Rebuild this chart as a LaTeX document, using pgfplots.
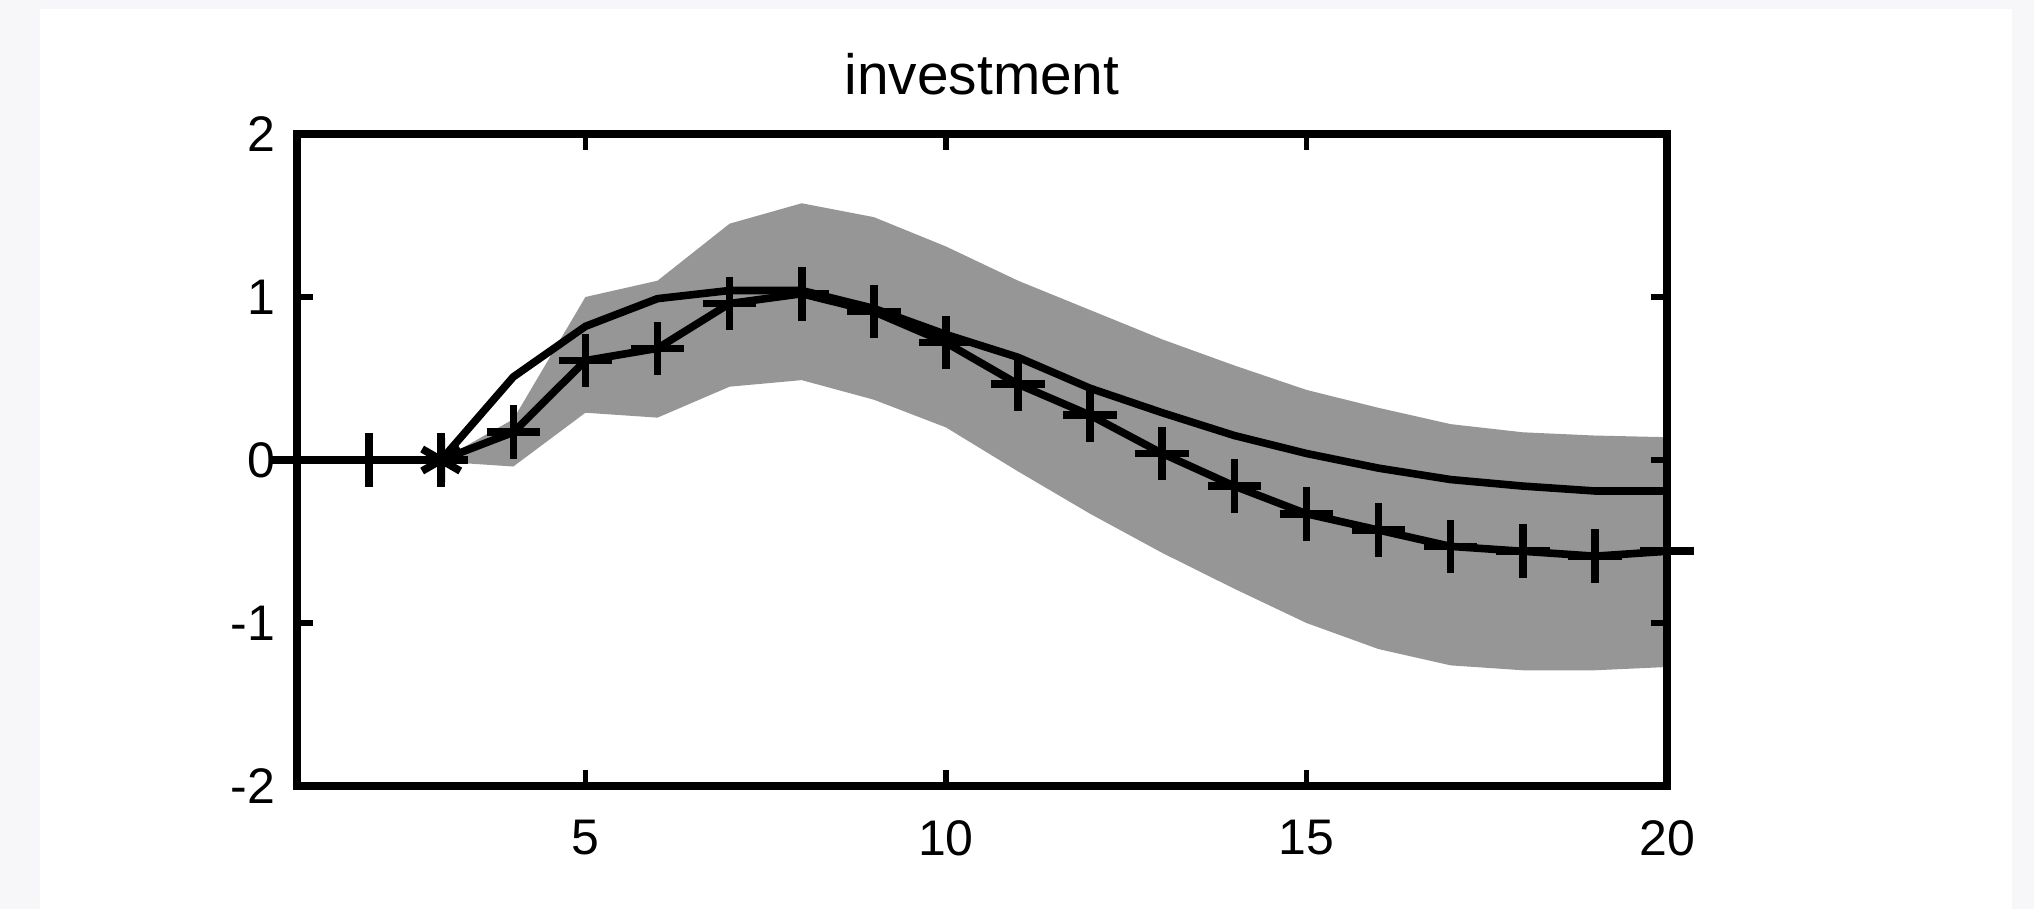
\documentclass[border=0pt]{standalone}
\usepackage{fontspec}
\setmainfont{Liberation Sans}
\usepackage{pgfplots}
\pgfplotsset{compat=1.18}
\definecolor{outerbg}{RGB}{247,247,249}
\definecolor{bandgray}{RGB}{150,150,150}
\begin{document}
\begin{tikzpicture}
\fill[outerbg] (-74.25pt,-30.75pt) rectangle (434.25pt,196.5pt);
\fill[white] (-64.25pt,-30.75pt) rectangle (428.75pt,194.25pt);
\begin{axis}[
  at={(0pt,0pt)}, anchor=south west,
  scale only axis, width=342.5pt, height=163pt,
  xmin=1, xmax=20, ymin=-2, ymax=2,
  xtick={5,10,15,20}, xticklabels={5,10,15,20},
  ytick={-2,-1,0,1,2}, yticklabels={-2,-1,0,1,2},
  tick align=inside, major tick length=4pt,
  tick style={black, line width=1.4pt},
  axis line style={black, line width=2pt},
  tick label style={font=\fontsize{12.5}{14}\selectfont},
  xticklabel style={yshift=-5pt},
  yticklabel style={xshift=-2pt},
  title={investment},
  title style={font=\fontsize{14.2}{16}\selectfont, at={(0.5,1)}, anchor=base, yshift=3.8pt},
  axis on top, clip=false,
]
\addplot[fill=bandgray, draw=none] coordinates {
(3,0) (4,0.25) (5,1.0) (6,1.10) (7,1.45) (8,1.575) (9,1.49) (10,1.31) (11,1.10) (12,0.92) (13,0.74) (14,0.58) (15,0.43) (16,0.32) (17,0.22) (18,0.17) (19,0.15) (20,0.14)
(20,-1.27) (19,-1.29) (18,-1.29) (17,-1.26) (16,-1.16) (15,-1.0) (14,-0.79) (13,-0.57) (12,-0.33) (11,-0.07) (10,0.2) (9,0.37) (8,0.49) (7,0.45) (6,0.26) (5,0.29) (4,-0.04) (3,-0.01)
} -- cycle;
\addplot[black, line width=1.9pt, line join=round] coordinates {
(1,0) (2,0) (3,0) (4,0.51) (5,0.82) (6,0.99) (7,1.04) (8,1.04) (9,0.93) (10,0.77) (11,0.63) (12,0.44) (13,0.29) (14,0.15) (15,0.04) (16,-0.05) (17,-0.12) (18,-0.16) (19,-0.19) (20,-0.19)
};
\addplot[black, line width=1.9pt, line join=round, mark=+, mark size=6.7pt, mark options={line width=1.9pt}] coordinates {
(1,0) (2,0) (3,0) (4,0.17) (5,0.61) (6,0.685) (7,0.96) (8,1.02) (9,0.91) (10,0.72) (11,0.465) (12,0.275) (13,0.04) (14,-0.16) (15,-0.33) (16,-0.43) (17,-0.53) (18,-0.56) (19,-0.59) (20,-0.56)
};
\addplot[black, only marks, mark=asterisk, mark size=5.5pt, mark options={line width=1.9pt}] coordinates {(3,0)};
\end{axis}
\pgfresetboundingbox
\path[use as bounding box] (-74.25pt,-30.75pt) rectangle (434.25pt,196.5pt);
\end{tikzpicture}
\end{document}
